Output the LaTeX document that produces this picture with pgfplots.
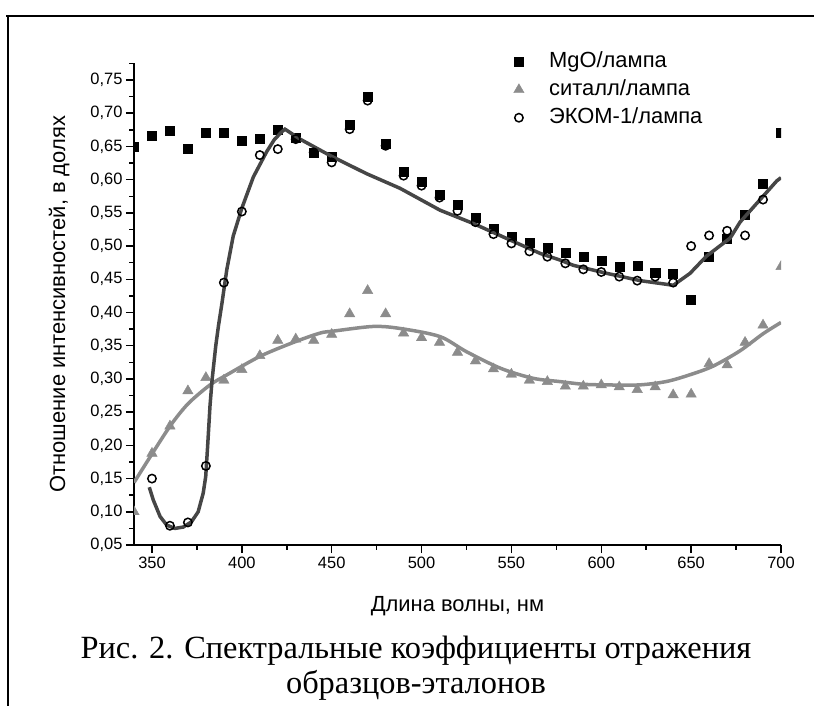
\documentclass[border=0pt]{standalone}
\usepackage{fontspec}
\setmainfont{Liberation Sans}
\newfontfamily\capfont{Liberation Serif}
\usepackage{pgfplots}
\pgfplotsset{compat=1.18}

\definecolor{fitdark}{RGB}{70,70,70}
\definecolor{sitall}{RGB}{140,140,140}

\begin{document}
\begin{tikzpicture}
\path[use as bounding box] (0,0) rectangle (814bp,-706bp);
% frame of the scanned figure (top and left edges only)
\draw[line width=2.5bp] (6bp,-16bp) -- (814bp,-16bp);
\draw[line width=2bp] (8bp,-16bp) -- (8bp,-706bp);

\begin{axis}[
    at={(134bp,-545bp)}, anchor=south west,
    scale only axis, width=647bp, height=481.6bp,
    xmin=340, xmax=700, ymin=0.05, ymax=0.775,
    axis x line*=bottom, axis y line*=left,
    xtick pos=bottom, ytick pos=left,
    axis line style={line width=1.8bp},
    xtick={350,400,...,700},
    ytick={0.05,0.10,...,0.76},
    minor xtick={375,425,...,675},
    minor ytick={0.075,0.125,...,0.78},
    tick align=outside,
    major tick length=8bp, minor tick length=4.5bp,
    every tick/.style={black, line width=1.5bp},
    /pgf/number format/assume math mode=true,
    ticklabel style={font=\fontsize{16.5}{19}\selectfont},
    yticklabel style={/pgf/number format/.cd, fixed, fixed zerofill, precision=2, use comma},
    xticklabel style={/pgf/number format/.cd, fixed, 1000 sep={}},
    xlabel={Длина волны, нм},
    ylabel={Отношение интенсивностей, в долях},
    label style={font=\fontsize{22}{26}\selectfont},
    xlabel style={at={(axis description cs:0.5,-0.1391)}, anchor=base},
    ylabel style={at={(axis description cs:-0.1066,0.5)}, anchor=base},
    clip marker paths=true,
    legend cell align=left,
    legend style={at={(axis description cs:0.5866,1.0257)}, anchor=north west,
        draw=none, fill=none, inner sep=0pt, font=\fontsize{22}{26}\selectfont,
        nodes={inner sep=0pt, text height=16bp, text depth=5bp},
        row sep=7bp, column sep=25bp},
]
% MgO/lamp
\addplot[only marks, mark=square*, mark size=4.5bp, black] coordinates {
(340,0.650) (350,0.666) (360,0.674) (370,0.647) (380,0.671) (390,0.670)
(400,0.658) (410,0.662) (420,0.675) (430,0.663) (440,0.641) (450,0.635)
(460,0.682) (470,0.725) (480,0.654) (490,0.612) (500,0.597) (510,0.578)
(520,0.562) (530,0.542) (540,0.526) (550,0.514) (560,0.505) (570,0.498)
(580,0.490) (590,0.484) (600,0.478) (610,0.469) (620,0.470) (630,0.460)
(640,0.459) (650,0.420) (660,0.484) (670,0.511) (680,0.547) (690,0.594)
(700,0.671)
};
% sitall/lamp
\addplot[only marks, mark=triangle*, mark size=6bp, color=sitall] coordinates {
(340,0.100) (350,0.188) (360,0.229) (370,0.282) (380,0.302) (390,0.298)
(400,0.314) (410,0.335) (420,0.358) (430,0.360) (440,0.358) (450,0.367)
(460,0.398) (470,0.433) (480,0.398) (490,0.369) (500,0.362) (510,0.355)
(520,0.340) (530,0.327) (540,0.315) (550,0.307) (560,0.298) (570,0.296)
(580,0.289) (590,0.289) (600,0.291) (610,0.288) (620,0.284) (630,0.288)
(640,0.276) (650,0.277) (660,0.323) (670,0.321) (680,0.355) (690,0.381)
(700,0.469)
};
\addlegendimage{only marks, mark=o, mark size=4.2bp, line width=1.5bp, black, fill=white}
% fitted curves
\addplot[forget plot, sitall, line width=3.5bp, smooth] coordinates {
(340,0.144) (350.7,0.190) (360.6,0.231) (370.2,0.263) (382.3,0.291)
(391.6,0.306) (410.1,0.334) (428.7,0.355) (443.5,0.369) (451,0.372)
(473,0.379) (488,0.376) (510,0.364) (525,0.341) (544,0.316) (562,0.301)
(577,0.296) (590,0.292) (603,0.291) (621,0.291) (636,0.296) (649,0.306)
(662,0.319) (677,0.342) (690,0.368) (700,0.385)
};
\addplot[forget plot, fitdark, line width=3.5bp] coordinates {
(348.5,0.137) (350.7,0.118) (354.5,0.093) (358.2,0.080) (362.8,0.075)
(367.4,0.077) (372,0.085) (375.7,0.100) (378.5,0.128) (379.9,0.153)
(381,0.200) (382.3,0.260) (383.5,0.300) (385.5,0.350) (387,0.380)
(389,0.415) (391.6,0.464) (395.2,0.515) (400,0.557) (406.4,0.604)
(413.8,0.642) (418,0.660) (422.2,0.672) (424,0.676) (432.4,0.661)
(450,0.635) (469.4,0.609) (488,0.587) (510.3,0.554) (528.8,0.534)
(551,0.507) (566,0.489) (577,0.479) (584.5,0.471) (603,0.459)
(621.6,0.448) (640.1,0.441) (649.4,0.459) (658.6,0.485) (671.7,0.512)
(677.2,0.536) (697.6,0.598) (700,0.603)
};
% EKOM-1/lamp
\addplot[only marks, mark=o, mark size=4.2bp, black, line width=1.5bp, fill=white, forget plot] coordinates {
(350,0.150) (360,0.079) (370,0.084) (380,0.169) (390,0.445) (400,0.552)
(410,0.637) (420,0.646) (430,0.661) (440,0.641) (450,0.626) (460,0.676)
(470,0.719) (480,0.651) (490,0.606) (500,0.591) (510,0.573) (520,0.553)
(530,0.536) (540,0.518) (550,0.504) (560,0.492) (570,0.484) (580,0.474)
(590,0.465) (600,0.461) (610,0.454) (620,0.448) (630,0.454) (640,0.445)
(650,0.500) (660,0.516) (670,0.523) (680,0.516) (690,0.570)
};
\legend{MgO/лампа, ситалл/лампа, ЭКОМ-1/лампа}
\end{axis}

\node[anchor=base, font=\capfont\fontsize{32.5}{38}\selectfont] at (416bp,-658bp)
  {Рис. 2. Спектральные коэффициенты отражения};
\node[anchor=base, font=\capfont\fontsize{32.5}{38}\selectfont] at (416bp,-693bp)
  {образцов-эталонов};
\end{tikzpicture}
\end{document}
